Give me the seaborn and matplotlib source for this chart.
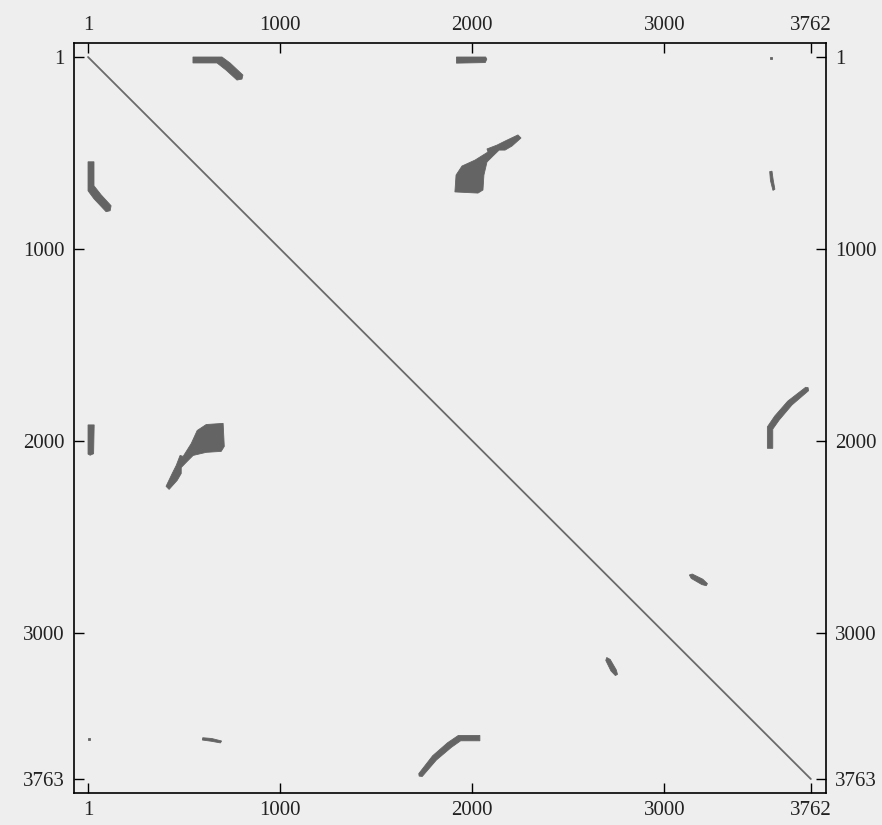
import numpy as np
import pandas as pd
import matplotlib.pyplot as plt
import seaborn as sns

# sequence lengths (columns x rows)
n_cols = 3762
n_rows = 3763

x_ticks = [1, 1000, 2000, 3000, 3762]
y_ticks = [1, 1000, 2000, 3000, 3763]

# contact regions above the diagonal, outlines in (residue i, residue j)
# the map is symmetric so every region is drawn again mirrored
contact_top_left_i = [547, 698, 740, 807, 802, 776, 719, 672, 547]
contact_top_left_j = [1, 1, 32, 95, 116, 121, 69, 32, 32]

contact_top_mid_i = [1918, 2070, 2076, 2068, 1918]
contact_top_mid_j = [1, 1, 12, 30, 33]

contact_blob_i = [1910, 1916, 1947, 2015, 2082, 2077, 2129, 2171, 2238, 2254,
                  2207, 2171, 2140, 2108, 2077, 2061, 2056, 2030]
contact_blob_j = [704, 616, 569, 538, 496, 480, 460, 439, 407, 423,
                  465, 486, 486, 517, 548, 616, 694, 710]

contact_dot_i = [3548, 3562, 3562, 3548]
contact_dot_j = [1, 1, 9, 9]

contact_small_i = [3548, 3560, 3566, 3575, 3565, 3552]
contact_small_j = [598, 596, 640, 690, 696, 645]

contact_arc_i = [3536, 3536, 3574, 3642, 3735, 3748, 3750, 3664, 3598, 3564, 3564]
contact_arc_j = [2040, 1928, 1872, 1794, 1722, 1724, 1740, 1814, 1892, 1940, 2040]

contact_streak_i = [3130, 3145, 3200, 3224, 3218, 3195, 3140]
contact_streak_j = [2700, 2695, 2722, 2745, 2756, 2750, 2718]

regions = [
    (contact_top_left_i, contact_top_left_j),
    (contact_top_mid_i, contact_top_mid_j),
    (contact_blob_i, contact_blob_j),
    (contact_dot_i, contact_dot_j),
    (contact_small_i, contact_small_j),
    (contact_arc_i, contact_arc_j),
    (contact_streak_i, contact_streak_j),
]

bg = "#eeeeee"
fill_col = "#646464"

sns.set_theme(style="white", rc={"axes.facecolor": bg, "figure.facecolor": bg})
plt.rcParams["font.family"] = ["Liberation Serif", "DejaVu Serif"]

fig = plt.figure(figsize=(8.82, 8.25), dpi=100)
ax = fig.add_axes([74 / 882, 1 - 793 / 825, 752 / 882, 750 / 825])

# self-contact diagonal
diag = pd.DataFrame({"i": [1, n_cols], "j": [1, n_rows]})
sns.lineplot(data=diag, x="i", y="j", ax=ax, color="#6a6a6a", linewidth=1.3,
             sort=False, estimator=None)

for ri, rj in regions:
    ax.fill(ri, rj, color=fill_col, lw=0.6, ec=fill_col)
    ax.fill(rj, ri, color=fill_col, lw=0.6, ec=fill_col)

ax.set_xlim(-72, 3841)
ax.set_ylim(3836, -72)
ax.set_xticks(x_ticks)
ax.set_yticks(y_ticks)
ax.set_xticklabels([str(t) for t in x_ticks])
ax.set_yticklabels([str(t) for t in y_ticks])
ax.set_xlabel("")
ax.set_ylabel("")

ax.tick_params(axis="both", direction="in", length=7.5, width=1.0, color="black",
               labelsize=15, labelcolor="#222222",
               top=True, right=True, labeltop=True, labelright=True,
               bottom=True, left=True, labelbottom=True, labelleft=True)
ax.tick_params(axis="x", pad=6)
ax.tick_params(axis="y", pad=6.5)

for s in ax.spines.values():
    s.set_visible(True)
    s.set_color("black")
    s.set_linewidth(1.2)

fig.savefig("out.png", dpi=100, facecolor=bg)
